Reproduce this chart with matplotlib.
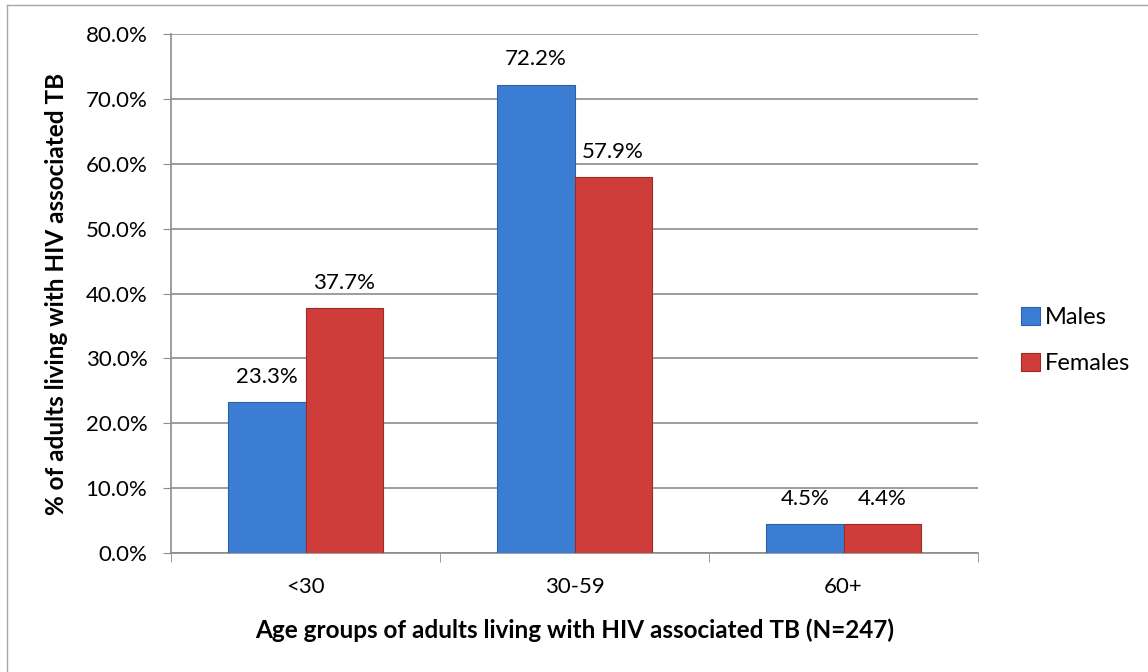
import numpy as np
import matplotlib.pyplot as plt
from matplotlib.lines import Line2D

plt.rcParams['font.family'] = ['Lato', 'DejaVu Sans']

# data
age_groups = ['<30', '30-59', '60+']
males = [23.3, 72.2, 4.5]
females = [37.7, 57.9, 4.4]
series_names = ['Males', 'Females']

fig = plt.figure(figsize=(11.48, 6.72), dpi=100)

# thin frame round the chart (left and top edges only are visible)
fig.add_artist(Line2D([7/1148, 7/1148], [0, 1 - 5/672], transform=fig.transFigure,
                      color='#a6a6a6', linewidth=1))
fig.add_artist(Line2D([7/1148, 1], [1 - 5/672, 1 - 5/672], transform=fig.transFigure,
                      color='#a6a6a6', linewidth=1))

ax = fig.add_axes([171/1148, 119/672, 807/1148, 519/672])

x = np.arange(len(age_groups))
w = 0.287
b1 = ax.bar(x - w/2, males, w, color='#3c7dd4', edgecolor='#2b5fa6', linewidth=0.8,
            label=series_names[0], zorder=3)
b2 = ax.bar(x + w/2, females, w, color='#cf3d3a', edgecolor='#9c2b28', linewidth=0.8,
            label=series_names[1], zorder=3)

for bars in (b1, b2):
    for rect in bars:
        h = rect.get_height()
        ax.text(rect.get_x() + rect.get_width()/2, h + 3.9, '%.1f%%' % h,
                ha='center', va='center', fontsize=16)

ax.set_xlim(-0.5, 2.5)
ax.set_ylim(0, 80)
yt = np.arange(0, 81, 10)
ax.set_yticks(yt)
ax.set_yticklabels(['%.1f%%' % v for v in yt], fontsize=16)
ax.set_xticks(x)
ax.set_xticklabels(age_groups, fontsize=16)
ax.set_xticks([-0.5, 0.5, 1.5, 2.5], minor=True)
ax.tick_params(axis='x', which='major', length=0, pad=17)
ax.tick_params(axis='x', which='minor', length=6.5, color='#8c8c8c')
ax.tick_params(axis='y', length=6, color='#8c8c8c', pad=11)
ax.grid(axis='y', color='#8c8c8c', linewidth=1.2, zorder=0)
for s in ('top', 'right'):
    ax.spines[s].set_visible(False)
for s in ('left', 'bottom'):
    ax.spines[s].set_color('#8c8c8c')
    ax.spines[s].set_linewidth(1.2)

ax.set_xlabel('Age groups of adults living with HIV associated TB (N=247)',
              fontsize=17.5, fontweight='bold', va='center')
ax.xaxis.set_label_coords(0.5, -0.148)
ax.set_ylabel('% of adults living with HIV associated TB', fontsize=17.5,
              fontweight='bold', va='center')
ax.yaxis.set_label_coords(-0.1413, 0.5)

ax.legend(loc='center left', bbox_to_anchor=(1.053, 0.41), frameon=False,
          borderaxespad=0, borderpad=0, fontsize=17, handlelength=0.8,
          handleheight=0.8, handletextpad=0.2, labelspacing=1.05)

plt.savefig('out.png', dpi=100)
